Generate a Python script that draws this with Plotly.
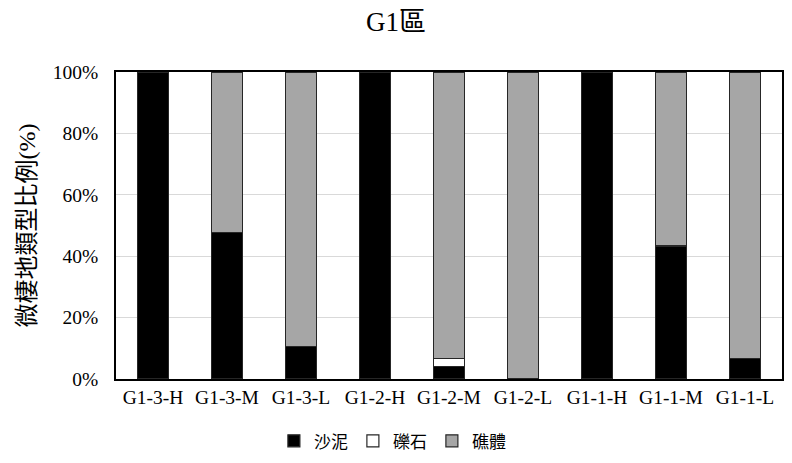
import plotly.graph_objects as go

categories = ["G1-3-H", "G1-3-M", "G1-3-L", "G1-2-H", "G1-2-M", "G1-2-L", "G1-1-H", "G1-1-M", "G1-1-L"]
sand_mud = [100, 47.8, 10.6, 100, 4.0, 0, 100, 43.3, 6.8]
gravel = [0, 0, 0, 0, 2.7, 0, 0, 0, 0]
reef = [0, 52.2, 89.4, 0, 93.3, 100, 0, 56.7, 93.2]
series_names = ["沙泥", "礫石", "礁體"]
tick_vals = [0, 20, 40, 60, 80, 100]
tick_text = ["0%", "20%", "40%", "60%", "80%", "100%"]

FONT = "Liberation Serif, Times New Roman, Noto Sans CJK TC, serif"

fig = go.Figure()
for name, vals, color in [(series_names[0], sand_mud, "#000000"),
                          (series_names[1], gravel, "#ffffff"),
                          (series_names[2], reef, "#a6a6a6")]:
    fig.add_trace(go.Bar(
        x=categories, y=[v if v > 0 else None for v in vals], name=name,
        marker=dict(color=color, line=dict(color="#262626", width=1.2)),
        width=0.42,
    ))

fig.update_layout(
    barmode="stack",
    width=792, height=463,
    margin=dict(l=116, r=10, t=72, b=84, autoexpand=False),
    paper_bgcolor="white", plot_bgcolor="white",
    font=dict(family=FONT, size=18, color="#000000"),
    title=dict(text="G1區", x=0.5, xanchor="center", y=0.9525, yref="container", yanchor="middle",
               font=dict(family=FONT, size=27, color="#000000")),
    legend=dict(orientation="h", x=0.415, xanchor="center", y=-0.203, yanchor="middle",
                font=dict(family=FONT, size=17), itemwidth=30, traceorder="normal"),
    showlegend=True,
)
fig.update_xaxes(showline=True, linecolor="#000000", linewidth=1.5, mirror=True,
                 ticks="", tickfont=dict(family=FONT, size=19.5), automargin=False)
fig.update_yaxes(range=[0, 100], tickvals=tick_vals, ticktext=tick_text,
                 showline=True, linecolor="#000000", linewidth=1.5, mirror=True,
                 showgrid=True, gridcolor="#d9d9d9", gridwidth=1.2,
                 ticks="", ticklabelstandoff=12, tickfont=dict(family=FONT, size=19.5), automargin=False,
                 title=dict(text="微棲地類型比例(%)", font=dict(family=FONT, size=24), standoff=10))

fig.write_html("out.html", config={"displayModeBar": False},
               post_script="document.body.style.margin='0px';")
